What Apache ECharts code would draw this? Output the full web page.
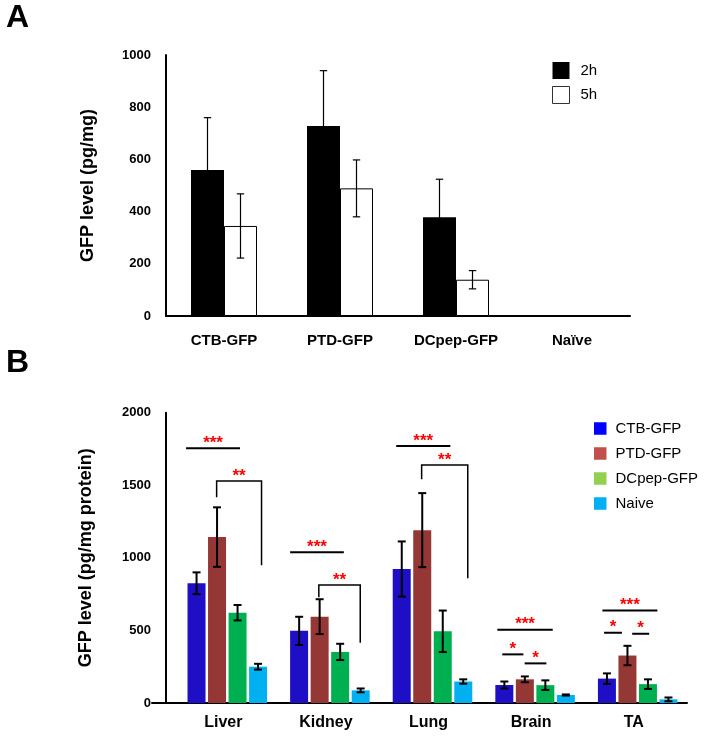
<!DOCTYPE html>
<html>
<head>
<meta charset="utf-8">
<script src="https://cdn.jsdelivr.net/npm/echarts@6/dist/echarts.min.js"></script>
<style>
html,body{margin:0;padding:0;background:#fff;}
#chart{width:704px;height:738px;}
</style>
</head>
<body>
<div id="chart"></div>
<script>
// ---------- Panel A data ----------
const aCategories = ['CTB-GFP', 'PTD-GFP', 'DCpep-GFP', 'Naïve'];
const a2h = [559, 728, 378, 0];
const a2hErr = [201, 212, 146, 0];
const a5h = [345, 489, 139, 0];
const a5hErr = [123, 109, 35, 0];

// ---------- Panel B data ----------
const bCategories = ['Liver', 'Kidney', 'Lung', 'Brain', 'TA'];
const bCTB = [825, 497, 923, 124, 168];
const bCTBErr = [75, 97, 190, 24, 36];
const bPTD = [1143, 595, 1191, 163, 327];
const bPTDErr = [205, 120, 255, 20, 67];
const bDCpep = [622, 352, 494, 123, 130];
const bDCpepErr = [53, 56, 143, 33, 33];
const bNaive = [250, 87, 148, 55, 25];
const bNaiveErr = [20, 13, 15, 4, 13];

// significance annotations (bar index units: 0=CTB ... 3=Naive)
const sigCat   = [0, 0, 1, 1, 2, 2, 3, 3, 3, 4, 4, 4];
const sigKind  = ['line','bracket','line','bracket','line','bracket','line','line','line','line','line','line'];
const sigFrom  = [-0.51, 0.98, -0.44, 0.96, -0.27, 0.97, -0.34, -0.10, 0.99, -0.22, -0.14, 1.23];
const sigTo    = [2.12, 3.17, 2.18, 2.98, 2.37, 3.22, 2.36, 0.93, 2.05, 2.46, 0.73, 2.06];
const sigValue = [1755, 1529, 1038, 813, 1771, 1640, 505, 335, 273, 638, 484, 477];
const sigDropL = [null, 1417, null, 728, null, 1541, null, null, null, null, null, null];
const sigDropR = [null, 949, null, 415, null, 859, null, null, null, null, null, null];
const sigLabel = ['***','**','***','**','***','**','***','*','*','***','*','*'];

const FONT = 'Liberation Sans, Arial, sans-serif';

function errSeries(xi, yi, values, errs, idx, n, pitch, capHalf, lw) {
  return {
    type: 'custom', xAxisIndex: xi, yAxisIndex: yi, z: 5, silent: true,
    data: values.map((v, i) => [i, v, errs[i]]),
    renderItem: function (params, api) {
      const cat = api.value(0), v = api.value(1), e = api.value(2);
      if (!e) return null;
      const off = (idx - (n - 1) / 2) * pitch;
      const t = api.coord([cat, v + e]);
      const b = api.coord([cat, v - e]);
      const x = t[0] + off;
      const st = { stroke: '#000', lineWidth: lw };
      return { type: 'group', children: [
        { type: 'line', shape: { x1: x, y1: t[1], x2: x, y2: b[1] }, style: st },
        { type: 'line', shape: { x1: x - capHalf, y1: t[1], x2: x + capHalf, y2: t[1] }, style: st },
        { type: 'line', shape: { x1: x - capHalf, y1: b[1], x2: x + capHalf, y2: b[1] }, style: st }
      ]};
    }
  };
}

const bPitch = 20.5;
const annSeries = {
  type: 'custom', xAxisIndex: 2, yAxisIndex: 2, z: 6, silent: true,
  data: sigCat.map((c, i) => [c, sigValue[i]]),
  renderItem: function (params, api) {
    const k = params.dataIndex;
    const cat = api.value(0);
    const base = api.coord([cat, 0])[0];
    const X = u => base + (u - 1.5) * bPitch;
    const Y = v => api.coord([cat, v])[1];
    const y = Y(sigValue[k]);
    const x1 = X(sigFrom[k]), x2 = X(sigTo[k]);
    const children = [];
    if (sigKind[k] === 'line') {
      children.push({ type: 'line', shape: { x1: x1, y1: y, x2: x2, y2: y }, style: { stroke: '#000', lineWidth: 2 } });
    } else {
      children.push({ type: 'polyline', shape: { points: [[x1, Y(sigDropL[k])], [x1, y], [x2, y], [x2, Y(sigDropR[k])]] },
        style: { stroke: '#000', lineWidth: 1.5, fill: null } });
    }
    children.push({ type: 'text', x: (x1 + x2) / 2, y: y - 5,
      style: { text: sigLabel[k], fill: '#ff0000', font: 'bold 17px ' + FONT, textAlign: 'center', textVerticalAlign: 'middle' } });
    return { type: 'group', children: children };
  }
};

const axisLbl = (size, margin) => ({ color: '#000', fontWeight: 'bold', fontSize: size, fontFamily: FONT, margin: margin });
const plainNum = v => String(v);

const chart = echarts.init(document.getElementById('chart'), null, { renderer: 'canvas' });
chart.setOption({
  backgroundColor: '#fff',
  animation: false,
  graphic: [
    { type: 'text', x: 6, y: 18, style: { text: 'A', font: 'bold 32px ' + FONT, fill: '#000', textAlign: 'left', textVerticalAlign: 'middle' } },
    { type: 'text', x: 6, y: 363, style: { text: 'B', font: 'bold 32px ' + FONT, fill: '#000', textAlign: 'left', textVerticalAlign: 'middle' } }
  ],
  legend: [
    { data: [
        { name: '2h', icon: 'rect' },
        { name: '5h', icon: 'rect', itemStyle: { color: '#fff', borderColor: '#333', borderWidth: 1 } }
      ],
      orient: 'vertical', left: 552, top: 62, padding: 0, itemWidth: 17, itemHeight: 17, itemGap: 7,
      textStyle: { color: '#000', fontSize: 15, fontFamily: FONT, padding: [0, 0, 0, 6] } },
    { data: [
        { name: 'CTB-GFP', itemStyle: { color: '#0000ff' } },
        { name: 'PTD-GFP', itemStyle: { color: '#c0504d' } },
        { name: 'DCpep-GFP', itemStyle: { color: '#92d050' } },
        { name: 'Naive', itemStyle: { color: '#00b0f0' } }
      ],
      orient: 'vertical', left: 594, top: 421, padding: 0, itemWidth: 12.5, itemHeight: 12.5, itemGap: 10, icon: 'rect',
      textStyle: { color: '#000', fontSize: 15, fontFamily: FONT, padding: [0, 0, 0, 4] } }
  ],
  grid: [
    { left: 166, right: 74, top: 55, height: 261 },
    { left: 152, right: 17, top: 412.7, height: 290.3 },
    { left: 176, right: 15, top: 412.7, height: 290.3 }
  ],
  xAxis: [
    { type: 'category', gridIndex: 0, data: aCategories,
      axisLine: { lineStyle: { color: '#000', width: 2 } }, axisTick: { show: false },
      axisLabel: axisLbl(15, 17) },
    { type: 'category', gridIndex: 1, data: [''],
      axisLine: { lineStyle: { color: '#000', width: 2 } }, axisTick: { show: false }, axisLabel: { show: false } },
    { type: 'category', gridIndex: 2, data: bCategories,
      axisLine: { show: false }, axisTick: { show: false },
      axisLabel: Object.assign(axisLbl(16, 12), { padding: [0, 8, 0, 0] }) }
  ],
  yAxis: [
    { type: 'value', gridIndex: 0, min: 0, max: 1000, interval: 200,
      axisLine: { show: true, lineStyle: { color: '#000', width: 2 } }, axisTick: { show: false }, splitLine: { show: false },
      axisLabel: Object.assign(axisLbl(13, 15), { formatter: plainNum }),
      name: 'GFP level (pg/mg)', nameLocation: 'middle', nameGap: 69,
      nameTextStyle: { color: '#000', fontWeight: 'bold', fontSize: 18, fontFamily: FONT } },
    { type: 'value', gridIndex: 1, min: 0, max: 1, show: false },
    { type: 'value', gridIndex: 2, min: 0, max: 2000, interval: 500, offset: 10,
      axisLine: { show: true, lineStyle: { color: '#000', width: 2 } }, axisTick: { show: false }, splitLine: { show: false },
      axisLabel: Object.assign(axisLbl(13, 15), { formatter: plainNum }),
      name: 'GFP level (pg/mg protein)', nameLocation: 'middle', nameGap: 71,
      nameTextStyle: { color: '#000', fontWeight: 'bold', fontSize: 18, fontFamily: FONT } }
  ],
  series: [
    { type: 'bar', name: '2h', xAxisIndex: 0, yAxisIndex: 0, data: a2h, barWidth: 33, barGap: '0%',
      itemStyle: { color: '#000' } },
    { type: 'bar', name: '5h', xAxisIndex: 0, yAxisIndex: 0, data: a5h, barWidth: 33, barGap: '0%',
      itemStyle: { color: '#fff', borderColor: '#000', borderWidth: 1 } },
    errSeries(0, 0, a2h, a2hErr, 0, 2, 33, 3.7, 1.2),
    errSeries(0, 0, a5h, a5hErr, 1, 2, 33, 3.7, 1.2),

    { type: 'bar', name: 'CTB-GFP', xAxisIndex: 2, yAxisIndex: 2, data: bCTB, barWidth: 18, barGap: '14%', itemStyle: { color: '#1e0fc6' } },
    { type: 'bar', name: 'PTD-GFP', xAxisIndex: 2, yAxisIndex: 2, data: bPTD, barWidth: 18, barGap: '14%', itemStyle: { color: '#953735' } },
    { type: 'bar', name: 'DCpep-GFP', xAxisIndex: 2, yAxisIndex: 2, data: bDCpep, barWidth: 18, barGap: '14%', itemStyle: { color: '#00b050' } },
    { type: 'bar', name: 'Naive', xAxisIndex: 2, yAxisIndex: 2, data: bNaive, barWidth: 18, barGap: '14%', itemStyle: { color: '#00b0f0' } },
    errSeries(2, 2, bCTB, bCTBErr, 0, 4, bPitch, 4, 2),
    errSeries(2, 2, bPTD, bPTDErr, 1, 4, bPitch, 4, 2),
    errSeries(2, 2, bDCpep, bDCpepErr, 2, 4, bPitch, 4, 2),
    errSeries(2, 2, bNaive, bNaiveErr, 3, 4, bPitch, 4, 2),
    annSeries
  ]
});
</script>
</body>
</html>
